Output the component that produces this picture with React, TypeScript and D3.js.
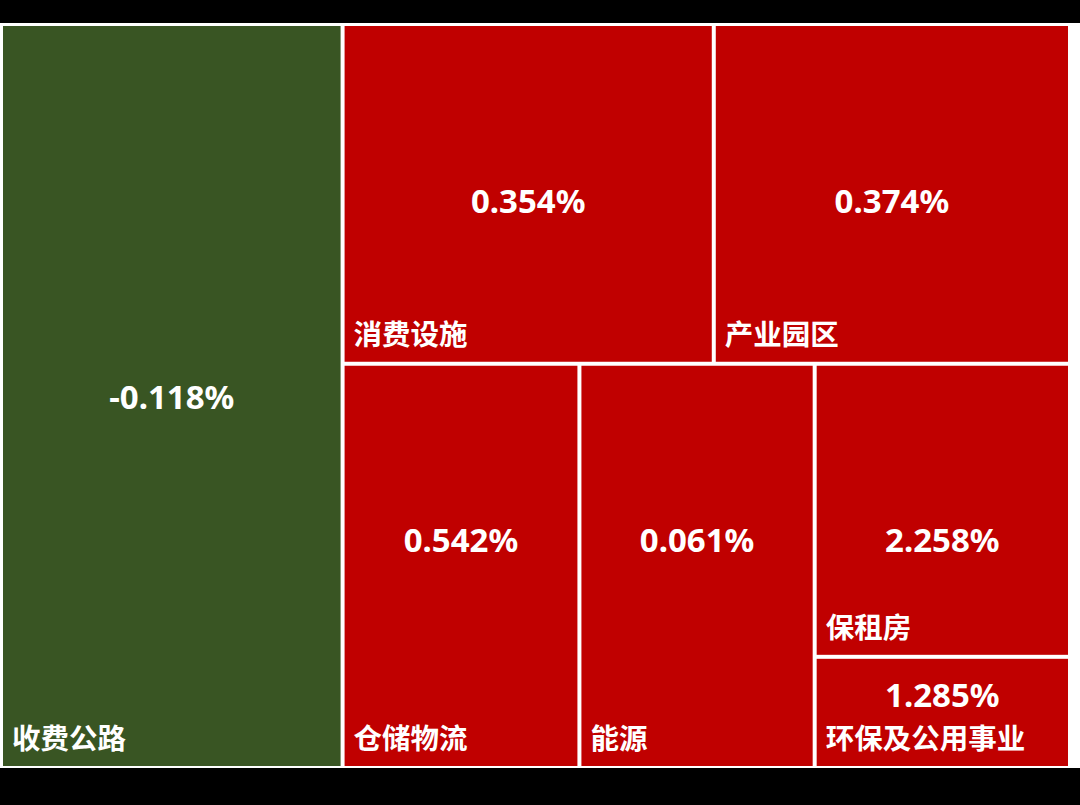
import React from "react";
import * as d3 from "d3";

// Data
const categories = ["收费公路", "消费设施", "产业园区", "仓储物流", "能源", "保租房", "环保及公用事业"];
const weights = [319.6, 158.6, 152.2, 120.4, 119.6, 94.1, 35.7];
const changes = [-0.118, 0.354, 0.374, 0.542, 0.061, 2.258, 1.285];
// Layout nesting (indices into categories), as arranged in the original treemap
const nesting: any = [0, [[1, 2], [3, 4, [5, 6]]]];

const W = 1080;
const H = 805;
const GREEN = "#395523";
const RED = "#C00000";

type Node = { name?: string; idx?: number; children?: Node[]; value?: number };

function build(spec: any): Node {
  if (Array.isArray(spec)) return { children: spec.map(build) };
  return { name: categories[spec], idx: spec, value: weights[spec] };
}

export default function App() {
  const rootData = build(nesting);
  const root = d3
    .hierarchy<Node>(rootData)
    .sum((d) => (d.children ? 0 : (d.value as number)));
  const layout = d3
    .treemap<Node>()
    .tile(d3.treemapSliceDice)
    .size([1065, 740])
    .paddingInner(4)
    .round(false);
  layout(root);
  const leaves = root.leaves() as d3.HierarchyRectangularNode<Node>[];
  const ox = 3;
  const oy = 26;
  const fmt = (v: number) => `${v.toFixed(3)}%`;

  return (
    <svg
      width={W}
      height={H}
      style={{ position: "absolute", left: 0, top: 0, display: "block" }}
    >
      <rect x={0} y={0} width={W} height={H} fill="#000" />
      <rect x={0} y={23} width={W} height={745} fill="#fff" />
      <g transform={`translate(${ox},${oy})`}>
        {leaves.map((n) => {
          const i = n.data.idx as number;
          const w = n.x1 - n.x0;
          const h = n.y1 - n.y0;
          const cx = n.x0 + w / 2;
          const cy =
            n.y0 + (h > 600 ? h / 2 : h > 150 ? Math.min(174, h * 0.6) : h * 0.33);
          return (
            <g key={i}>
              <rect
                x={n.x0}
                y={n.y0}
                width={w}
                height={h}
                fill={changes[i] < 0 ? GREEN : RED}
              />
              <text
                x={cx}
                y={cy}
                textAnchor="middle"
                dominantBaseline="central"
                fill="#fff"
                fontFamily="'Noto Sans', 'Open Sans', sans-serif"
                fontWeight="bold"
                fontSize={33}
              >
                {fmt(changes[i])}
              </text>
              <text
                x={n.x0 + 9}
                y={n.y1 - 17}
                fill="#fff"
                fontFamily="'Noto Sans CJK SC', sans-serif"
                fontWeight="bold"
                fontSize={28.5}
              >
                {categories[i]}
              </text>
            </g>
          );
        })}
      </g>
    </svg>
  );
}
